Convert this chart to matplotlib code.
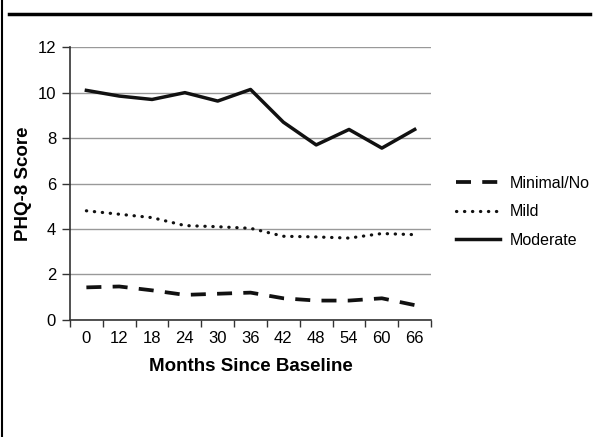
import matplotlib.pyplot as plt
import numpy as np
from matplotlib.lines import Line2D

plt.rcParams['font.family'] = ['Liberation Sans', 'DejaVu Sans']

months = ['0', '12', '18', '24', '30', '36', '42', '48', '54', '60', '66']
minimal = [1.43, 1.47, 1.3, 1.1, 1.15, 1.2, 0.95, 0.85, 0.85, 0.95, 0.65]
mild = [4.8, 4.65, 4.5, 4.15, 4.1, 4.03, 3.68, 3.65, 3.6, 3.8, 3.75]
moderate = [10.1, 9.85, 9.7, 10.0, 9.63, 10.14, 8.7, 7.7, 8.38, 7.56, 8.38]

x = np.arange(len(months))

fig = plt.figure(figsize=(5.93, 4.37), dpi=100)
ax = fig.add_axes([0.118, 0.268, 0.609, 0.624])

ax.plot(x, minimal, color='#111111', lw=2.7, linestyle=(0, (4.0, 3.0)), label='Minimal/No')
ax.plot(x, mild, color='#111111', lw=2.3, linestyle=(0, (0.1, 2.4)), dash_capstyle='round', label='Mild')
ax.plot(x, moderate, color='#111111', lw=2.5, label='Moderate')

ax.set_xlim(-0.5, len(months) - 0.5)
ax.set_ylim(0, 12)
ax.set_yticks(range(0, 13, 2))
ax.yaxis.grid(True, color='#999999', lw=1)
ax.set_axisbelow(True)

# ticks at category boundaries, labels in the middle
ax.set_xticks(np.arange(-0.5, len(months), 1))
ax.set_xticklabels([])
ax.set_xticks(x, minor=True)
ax.set_xticklabels(months, minor=True)
ax.tick_params(axis='x', which='major', length=5, width=1, color='#333333')
ax.tick_params(axis='x', which='minor', length=0, labelsize=12, pad=8)
ax.tick_params(axis='y', length=6, width=1, color='#333333', labelsize=12, pad=4)

for s in ['top', 'right']:
    ax.spines[s].set_visible(False)
for s in ['left', 'bottom']:
    ax.spines[s].set_color('#333333')
    ax.spines[s].set_linewidth(1.2)

ax.set_xlabel('Months Since Baseline', fontsize=13.5, fontweight='bold', labelpad=9)
ax.set_ylabel('PHQ-8 Score', fontsize=13.5, fontweight='bold', labelpad=4)

fig.legend(loc='center left', bbox_to_anchor=(0.769, 0.515), frameon=False,
           borderaxespad=0, borderpad=0, fontsize=11.5, handlelength=2.75,
           labelspacing=0.85, handletextpad=0.6)

# figure frame lines
fig.add_artist(Line2D([0.015, 0.995], [0.968, 0.968], transform=fig.transFigure, color='black', lw=2.5))
fig.add_artist(Line2D([0.004, 0.004], [0, 1], transform=fig.transFigure, color='black', lw=1.5))

fig.savefig('out.png', dpi=100)
